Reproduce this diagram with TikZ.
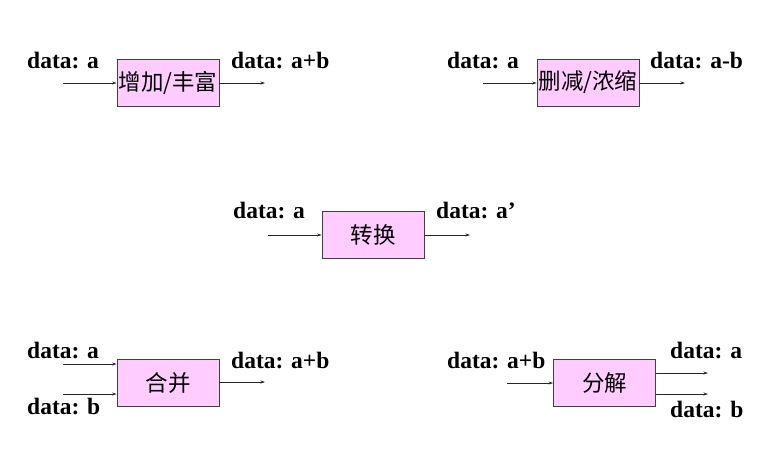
\documentclass[tikz,border=0pt]{standalone}
\usepackage{fontspec}
\setmainfont{Liberation Serif}
\newfontfamily\cjk{Noto Sans CJK SC}
\usetikzlibrary{arrows.meta}
\tikzset{
  procbox/.style={draw=black!75, line width=0.9pt, fill=pinkfill, minimum width=102pt, minimum height=47pt, inner sep=0pt, font=\cjk\fontsize{22.5pt}{25pt}\selectfont},
  lbl/.style={anchor=base west, inner sep=0pt, font=\bfseries\fontsize{23.5pt}{26pt}\selectfont},
  flow/.style={draw=black!85, line width=0.8pt, -{Stealth[length=4.5pt,width=3pt]}}
}
\definecolor{pinkfill}{HTML}{FFCCFF}
\begin{document}
\begin{tikzpicture}[x=1pt,y=-1pt]
\useasboundingbox (0,0) rectangle (781,450);
% box 1
\node[procbox] (b1) at (168,82.5) {增加/丰富};
\coordinate (i1) at (63,83);
\coordinate (o1) at (265,83);
\draw[flow] (i1) -- (i1 -| b1.west);
\draw[flow] (b1.east |- o1) -- (o1);
\node[lbl] (l1a) at (27,68) {data: a};
\node[lbl] (l1b) at (231,68) {data: a+b};
% box 2
\node[procbox] (b2) at (588,82.5) {删减/浓缩};
\coordinate (i2) at (483,83);
\coordinate (o2) at (685,83);
\draw[flow] (i2) -- (i2 -| b2.west);
\draw[flow] (b2.east |- o2) -- (o2);
\node[lbl] (l2a) at (447,68) {data: a};
\node[lbl] (l2b) at (650,68) {data: a-b};
% box 3
\node[procbox] (b3) at (373,234.5) {转换};
\coordinate (i3) at (268,235);
\coordinate (o3) at (470,235);
\draw[flow] (i3) -- (i3 -| b3.west);
\draw[flow] (b3.east |- o3) -- (o3);
\node[lbl] (l3a) at (233,218) {data: a};
\node[lbl] (l3b) at (436,218) {data: a’};
% box 4
\node[procbox] (b4) at (168,383) {合并};
\coordinate (i4a) at (63,364);
\coordinate (i4b) at (63,394);
\coordinate (o4) at (265,382);
\draw[flow] (i4a) -- (i4a -| b4.west);
\draw[flow] (i4b) -- (i4b -| b4.west);
\draw[flow] (b4.east |- o4) -- (o4);
\node[lbl] (l4a) at (27,358) {data: a};
\node[lbl] (l4b) at (27,414) {data: b};
\node[lbl] (l4c) at (231,368) {data: a+b};
% box 5
\node[procbox] (b5) at (604.5,383) {分解};
\coordinate (i5) at (507,383);
\coordinate (o5a) at (708,373);
\coordinate (o5b) at (708,394);
\draw[flow] (i5) -- (i5 -| b5.west);
\draw[flow] (b5.east |- o5a) -- (o5a);
\draw[flow] (b5.east |- o5b) -- (o5b);
\node[lbl] (l5a) at (447,368) {data: a+b};
\node[lbl] (l5b) at (670,358) {data: a};
\node[lbl] (l5c) at (670,417) {data: b};
\end{tikzpicture}
\end{document}
